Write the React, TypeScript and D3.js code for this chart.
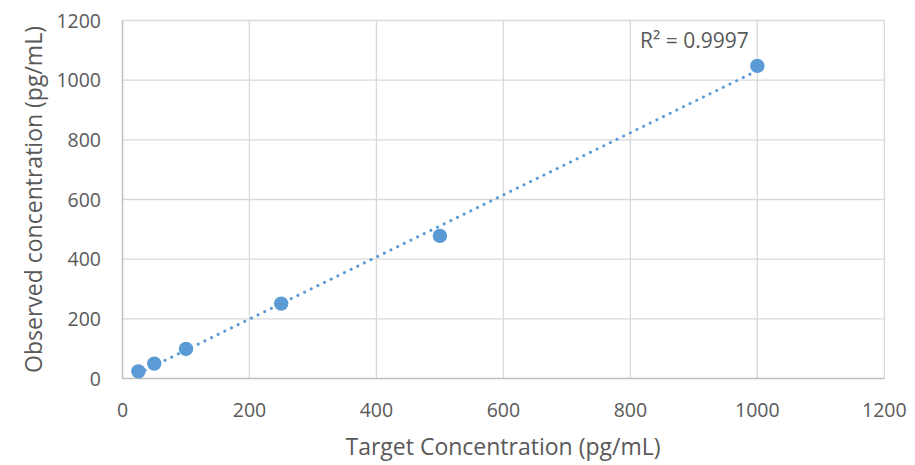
import React from "react";
import * as d3 from "d3";

const targetConc = [25, 50, 100, 250, 500, 1000];
const observedConc = [24, 50, 99, 251, 478, 1048];
const xTicks = [0, 200, 400, 600, 800, 1000, 1200];
const yTicks = [0, 200, 400, 600, 800, 1000, 1200];
const r2Label = "R² = 0.9997";
const xTitle = "Target Concentration (pg/mL)";
const yTitle = "Observed concentration (pg/mL)";

export default function App() {
  const W = 915, H = 465;
  const left = 122.5, right = 884.3, top = 20.5, bottom = 378.5;
  const x = d3.scaleLinear().domain([0, 1200]).range([left, right]);
  const y = d3.scaleLinear().domain([0, 1200]).range([bottom, top]);

  const n = targetConc.length;
  const mx = d3.mean(targetConc)!;
  const my = d3.mean(observedConc)!;
  let sxy = 0, sxx = 0;
  for (let i = 0; i < n; i++) {
    sxy += (targetConc[i] - mx) * (observedConc[i] - my);
    sxx += (targetConc[i] - mx) ** 2;
  }
  const slope = sxy / sxx;
  const intercept = my - slope * mx;
  const x0 = d3.min(targetConc)!, x1 = d3.max(targetConc)!;
  const line = d3.line<number>().x((d) => x(d)).y((d) => y(slope * d + intercept));

  const font = "'Open Sans', 'Liberation Sans', sans-serif";
  const grey = "#595959";

  return (
    <svg width={W} height={H} style={{ position: "absolute", left: 0, top: 0, background: "#fff" }} fontFamily={font}>
      {xTicks.slice(1).map((t) => (
        <line key={"gx" + t} x1={x(t)} x2={x(t)} y1={top} y2={bottom} stroke="#d9d9d9" strokeWidth={1.3} />
      ))}
      {yTicks.slice(1).map((t) => (
        <line key={"gy" + t} x1={left} x2={right} y1={y(t)} y2={y(t)} stroke="#d9d9d9" strokeWidth={1.3} />
      ))}
      <line x1={left} x2={left} y1={top} y2={bottom} stroke="#bfbfbf" strokeWidth={1.5} />
      <line x1={left} x2={right} y1={bottom} y2={bottom} stroke="#bfbfbf" strokeWidth={1.5} />
      {xTicks.map((t) => (
        <text key={"tx" + t} x={x(t)} y={417} textAnchor="middle" fontSize={19.5} fill={grey}>{t}</text>
      ))}
      {yTicks.map((t) => (
        <text key={"ty" + t} x={101} y={y(t) + 7} textAnchor="end" fontSize={19.5} fill={grey}>{t}</text>
      ))}
      <path d={line([x0, x1])!} fill="none" stroke="#5b9bd5" strokeWidth={3} strokeDasharray="0.1 7.3" strokeLinecap="round" />
      {targetConc.map((d, i) => (
        <circle key={"p" + i} cx={x(d)} cy={y(observedConc[i])} r={7.2} fill="#5b9bd5" />
      ))}
      <text x={640} y={48} fontSize={21} fill={grey}>{r2Label}</text>
      <text x={503} y={455} textAnchor="middle" fontSize={23} fill={grey}>{xTitle}</text>
      <text transform={`translate(42, ${(top + bottom) / 2}) rotate(-90)`} textAnchor="middle" fontSize={23} fill={grey}>{yTitle}</text>
    </svg>
  );
}
